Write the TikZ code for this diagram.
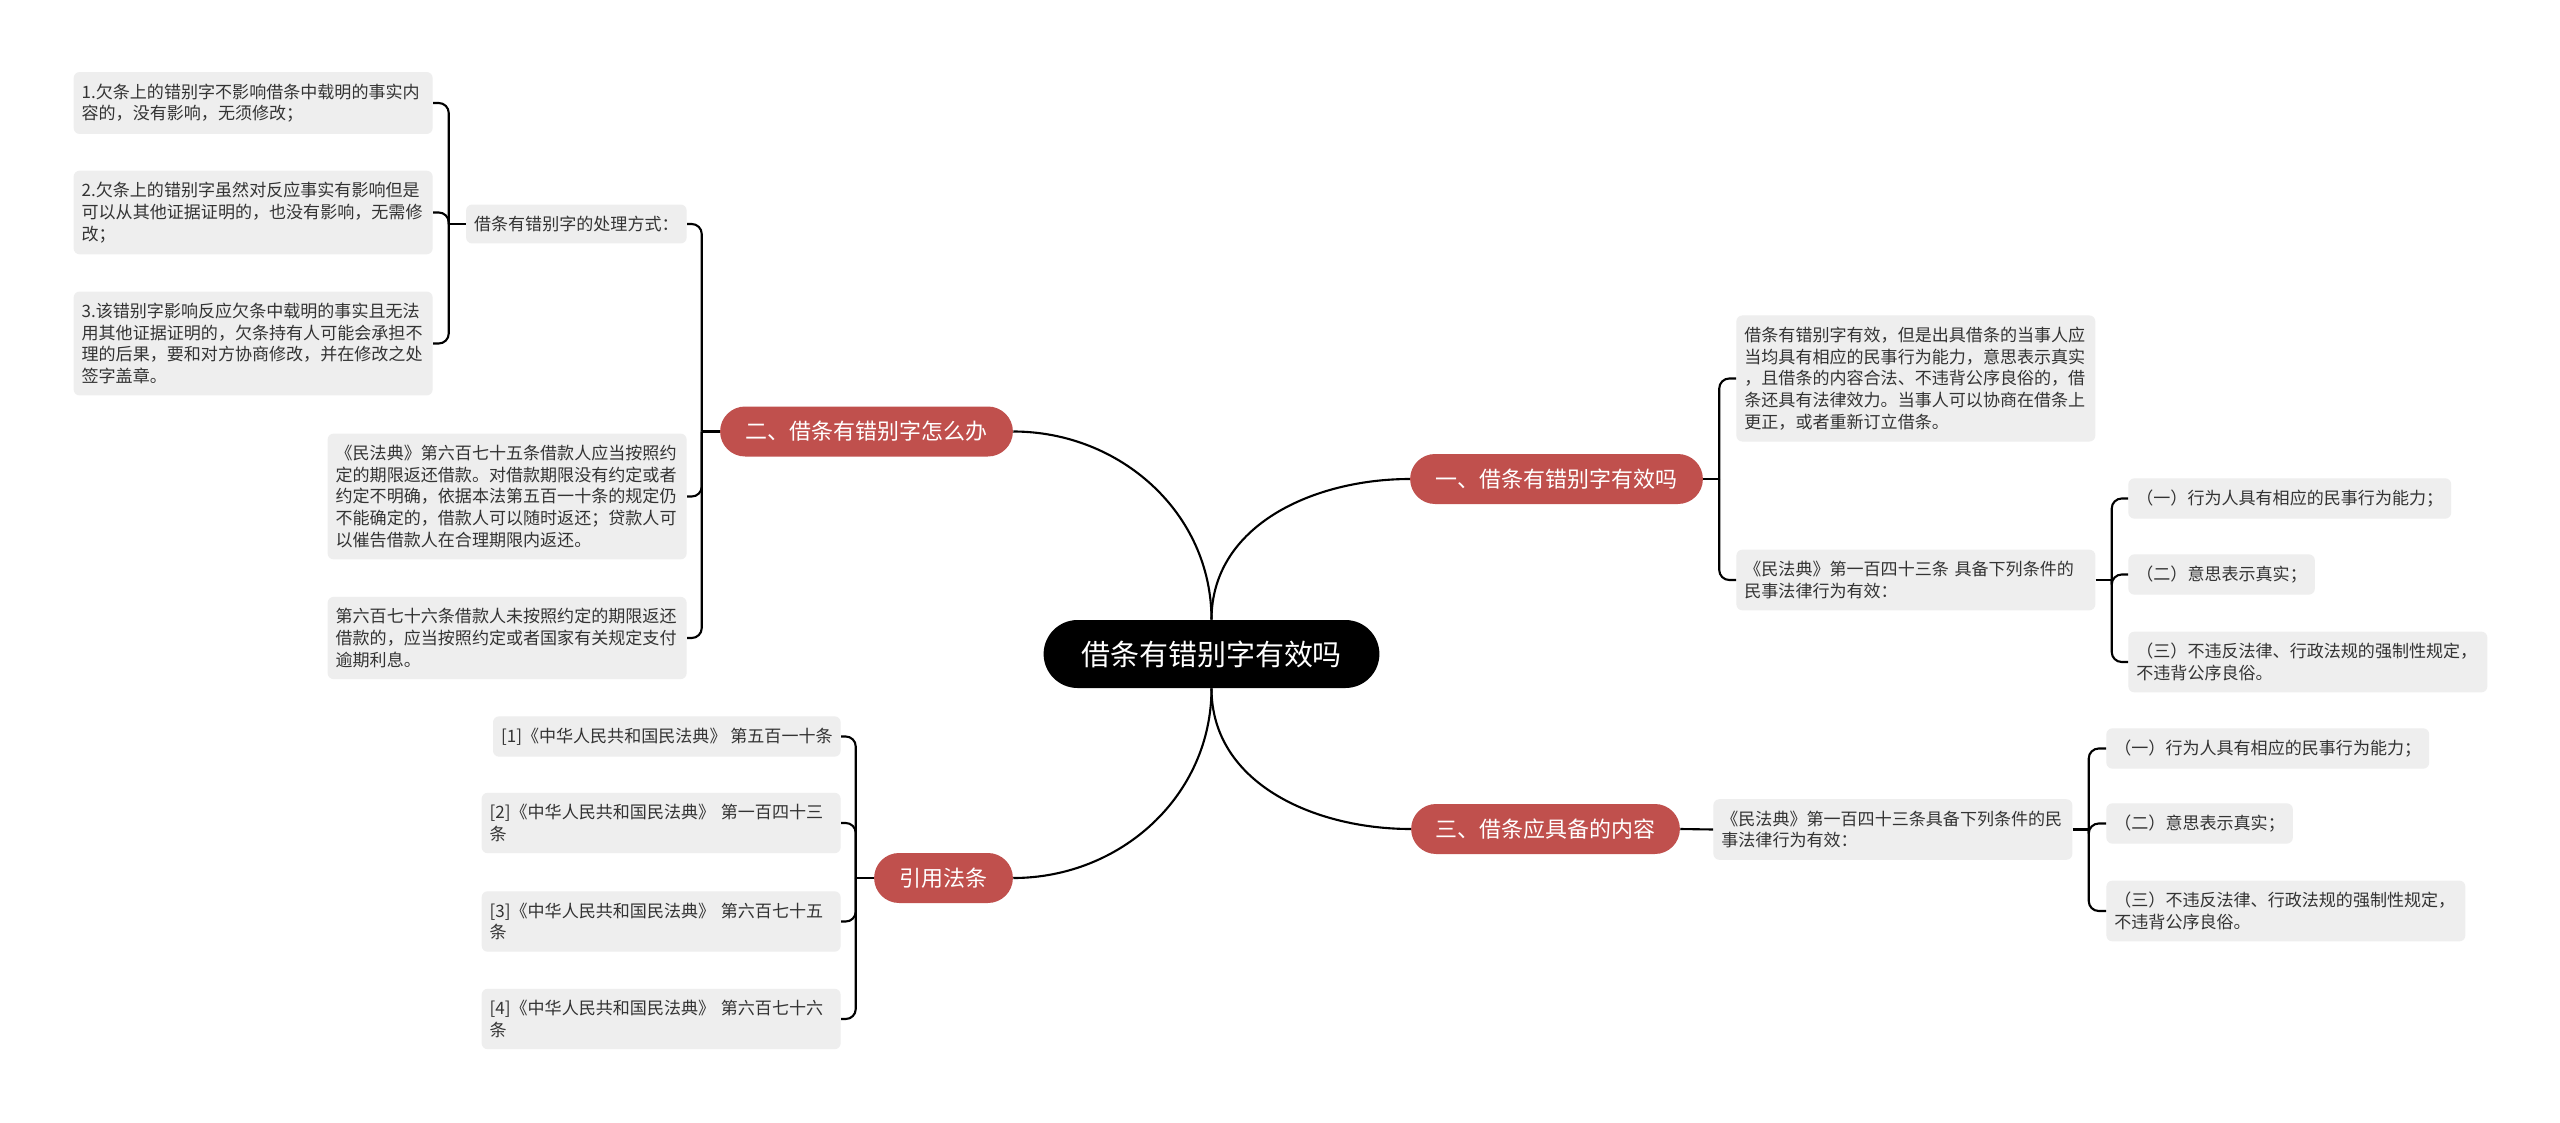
\documentclass[tikz,border=0pt]{standalone}
\usepackage{fontspec}
\setmainfont{Noto Sans CJK SC}
\usepackage{tikz}
\usetikzlibrary{positioning,shapes.misc}
\definecolor{topiccolor}{HTML}{C0504D}
\definecolor{leafcolor}{HTML}{EEEEEE}
\definecolor{inkcolor}{HTML}{333333}

\begin{document}
\begin{tikzpicture}[
    root/.style={rounded rectangle, fill=black, text=white, minimum width=6.95cm, minimum height=1.36cm, font=\fontsize{16.5}{20}\selectfont},
    topic/.style={rounded rectangle, fill=topiccolor, text=white, minimum height=1cm, font=\fontsize{12.5}{15}\selectfont},
    leaf/.style={fill=leafcolor, text=inkcolor, rounded corners=0.12cm, align=left, inner xsep=0.16cm, inner ysep=0.23cm, font=\fontsize{9.7}{12.35}\selectfont},
    wrap/.style={leaf, text width=6.86cm},
    link/.style={line width=1.2pt},
    elbow/.style={link, rounded corners=0.2cm},
  ]
  \path[use as bounding box, fill=white] (0,0) rectangle (51.2,-22.46);

  % centre and main topics
  \node[root] (root) at (24.23,-13.08) {借条有错别字有效吗};
  \node[topic, minimum width=6.09cm] (b1) at (31.13,-9.58) {一、借条有错别字有效吗};
  \node[topic, minimum width=6.09cm] (b2) at (17.33,-8.63) {二、借条有错别字怎么办};
  \node[topic, minimum width=5.61cm] (b3) at (30.91,-16.58) {三、借条应具备的内容};
  \node[topic, minimum width=3.01cm] (b4) at (18.87,-17.56) {引用法条};

  % left: how to handle
  \node[wrap, anchor=east] (l1) at (8.66,-2.06)
    {1.欠条上的错别字不影响借条中载明的事实内\\容的，没有影响，无须修改；};
  \node[wrap, anchor=east] (l2) at (8.66,-4.25)
    {2.欠条上的错别字虽然对反应事实有影响但是\\可以从其他证据证明的，也没有影响，无需修\\改；};
  \node[wrap, anchor=east] (l3) at (8.66,-6.87)
    {3.该错别字影响反应欠条中载明的事实且无法\\用其他证据证明的，欠条持有人可能会承担不\\理的后果，要和对方协商修改，并在修改之处\\签字盖章。};
  \node[leaf, anchor=east] (p) at (13.74,-4.48) {借条有错别字的处理方式：};
  \node[wrap, anchor=east] (m1) at (13.74,-9.93)
    {《民法典》第六百七十五条借款人应当按照约\\定的期限返还借款。对借款期限没有约定或者\\约定不明确，依据本法第五百一十条的规定仍\\不能确定的，借款人可以随时返还；贷款人可\\以催告借款人在合理期限内返还。};
  \node[wrap, anchor=east] (m2) at (13.74,-12.76)
    {第六百七十六条借款人未按照约定的期限返还\\借款的，应当按照约定或者国家有关规定支付\\逾期利息。};

  % left: cited articles
  \node[leaf, anchor=east] (ref1) at (16.82,-14.73) {[1]《中华人民共和国民法典》 第五百一十条};
  \node[wrap, anchor=east] (ref2) at (16.82,-16.46) {[2]《中华人民共和国民法典》 第一百四十三\\条};
  \node[wrap, anchor=east] (ref3) at (16.82,-18.43) {[3]《中华人民共和国民法典》 第六百七十五\\条};
  \node[wrap, anchor=east] (ref4) at (16.82,-20.38) {[4]《中华人民共和国民法典》 第六百七十六\\条};

  % right: validity
  \node[wrap, anchor=west] (r1) at (34.72,-7.57)
    {借条有错别字有效，但是出具借条的当事人应\\当均具有相应的民事行为能力，意思表示真实\\，且借条的内容合法、不违背公序良俗的，借\\条还具有法律效力。当事人可以协商在借条上\\更正，或者重新订立借条。};
  \node[wrap, anchor=west] (r2) at (34.72,-11.60)
    {《民法典》第一百四十三条 具备下列条件的\\民事法律行为有效：};
  \node[leaf, anchor=west] (r2a) at (42.56,-9.97) {（一）行为人具有相应的民事行为能力；};
  \node[leaf, anchor=west] (r2b) at (42.56,-11.49) {（二）意思表示真实；};
  \node[wrap, anchor=west] (r2c) at (42.56,-13.24) {（三）不违反法律、行政法规的强制性规定，\\不违背公序良俗。};

  % right: contents
  \node[wrap, anchor=west] (r3) at (34.26,-16.59)
    {《民法典》第一百四十三条具备下列条件的民\\事法律行为有效：};
  \node[leaf, anchor=west] (r3a) at (42.12,-14.97) {（一）行为人具有相应的民事行为能力；};
  \node[leaf, anchor=west] (r3b) at (42.12,-16.47) {（二）意思表示真实；};
  \node[wrap, anchor=west] (r3c) at (42.12,-18.22) {（三）不违反法律、行政法规的强制性规定，\\不违背公序良俗。};

  % curves from the centre
  \draw[link] (root.north) to[out=90,in=180] (b1.west);
  \draw[link] (root.north) to[out=90,in=0] (b2.east);
  \draw[link] (root.south) to[out=-90,in=180] (b3.west);
  \draw[link] (root.south) to[out=-90,in=0] (b4.east);

  % brackets
  \coordinate (s1) at ([xshift=0.32cm]b1.east);
  \draw[link] (b1.east) -- (s1);
  \draw[elbow] (s1) |- (r1.west);
  \draw[elbow] (s1) |- (r2.west);

  \coordinate (s2) at ([xshift=0.32cm]r2.east);
  \draw[link] (r2.east) -- (s2);
  \draw[elbow] (s2) |- (r2a.west);
  \draw[elbow] (s2) |- (r2b.west);
  \draw[elbow] (s2) |- (r2c.west);

  \draw[link] (b3.east) -- (r3.west);
  \coordinate (s3) at ([xshift=0.32cm]r3.east);
  \draw[link] (r3.east) -- (s3);
  \draw[elbow] (s3) |- (r3a.west);
  \draw[elbow] (s3) |- (r3b.west);
  \draw[elbow] (s3) |- (r3c.west);

  \coordinate (s4) at ([xshift=-0.36cm]b2.west);
  \draw[link] (b2.west) -- (s4);
  \draw[elbow] (s4) |- (p.east);
  \draw[elbow] (s4) |- (m1.east);
  \draw[elbow] (s4) |- (m2.east);

  \coordinate (s5) at ([xshift=-0.34cm]p.west);
  \draw[link] (p.west) -- (s5);
  \draw[elbow] (s5) |- (l1.east);
  \draw[elbow] (s5) |- (l2.east);
  \draw[elbow] (s5) |- (l3.east);

  \coordinate (s6) at ([xshift=-0.36cm]b4.west);
  \draw[link] (b4.west) -- (s6);
  \draw[elbow] (s6) |- (ref1.east);
  \draw[elbow] (s6) |- (ref2.east);
  \draw[elbow] (s6) |- (ref3.east);
  \draw[elbow] (s6) |- (ref4.east);
\end{tikzpicture}
\end{document}
